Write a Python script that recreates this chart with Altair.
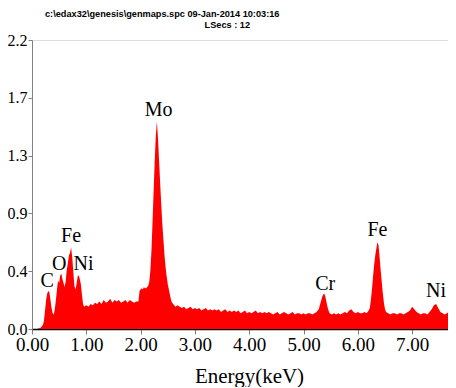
import altair as alt
import pandas as pd

# ---- spectrum ----
energy_kev = [
    0.00, 0.08, 0.12, 0.16, 0.20, 0.22, 0.24, 0.26, 0.28, 0.30, 0.32, 0.34, 0.36, 0.38, 0.40,
    0.42, 0.44, 0.46, 0.48, 0.50, 0.52, 0.54, 0.56, 0.58, 0.60, 0.62, 0.64, 0.66, 0.68, 0.70,
    0.72, 0.74, 0.76, 0.78, 0.80, 0.82, 0.84, 0.86, 0.88, 0.90, 0.92, 0.94, 0.96,
    1.00, 1.04, 1.08, 1.12, 1.16, 1.20, 1.24, 1.28, 1.32, 1.36, 1.40, 1.44, 1.48, 1.52, 1.56,
    1.60, 1.64, 1.68, 1.72, 1.76, 1.80, 1.84, 1.88, 1.92, 1.96, 1.98,
    2.00, 2.02, 2.04, 2.06, 2.08, 2.10, 2.12, 2.14, 2.16, 2.18, 2.20, 2.22, 2.24, 2.26, 2.28,
    2.30, 2.32, 2.34, 2.36, 2.38, 2.40, 2.42, 2.44, 2.46, 2.48, 2.50, 2.52, 2.54, 2.56, 2.58,
    2.60, 2.64, 2.68,
    2.72, 2.76, 2.80, 2.84, 2.88, 2.92, 2.96, 3.00, 3.04, 3.08, 3.12, 3.16, 3.20, 3.24, 3.28,
    3.32, 3.36, 3.40, 3.44, 3.48, 3.52, 3.56, 3.60, 3.64, 3.68, 3.72, 3.76, 3.80, 3.84, 3.88,
    3.92, 3.96, 4.00, 4.04, 4.08, 4.12, 4.16, 4.20, 4.24, 4.28, 4.32, 4.36, 4.40, 4.44, 4.48,
    4.52, 4.56, 4.60, 4.64, 4.68, 4.72, 4.76, 4.80, 4.84, 4.88, 4.92, 4.96, 5.00, 5.04, 5.08,
    5.12, 5.16, 5.20,
    5.24, 5.28, 5.30, 5.32, 5.34, 5.36, 5.38, 5.40, 5.42, 5.44, 5.46, 5.48,
    5.52, 5.56, 5.60, 5.64, 5.68, 5.72, 5.76, 5.80, 5.84, 5.88, 5.92, 5.96, 6.00, 6.04, 6.08,
    6.12, 6.16,
    6.20, 6.22, 6.24, 6.26, 6.28, 6.30, 6.32, 6.34, 6.36, 6.38, 6.40, 6.42, 6.44, 6.46, 6.48,
    6.50, 6.52,
    6.56, 6.60, 6.64, 6.68, 6.72, 6.76, 6.80, 6.84, 6.88, 6.92, 6.96, 7.00, 7.04, 7.08, 7.12,
    7.16, 7.20, 7.24, 7.28, 7.32, 7.36, 7.40, 7.44, 7.48, 7.52, 7.56, 7.60, 7.64, 7.68, 7.72,
    7.76, 7.80, 7.84, 7.88,
]
counts_k = [
    0.0, 0.0, 0.003, 0.01, 0.03, 0.06, 0.14, 0.22, 0.27, 0.29, 0.28, 0.22, 0.16, 0.12, 0.11,
    0.15, 0.22, 0.30, 0.37, 0.35, 0.41, 0.42, 0.38, 0.35, 0.32, 0.36, 0.45, 0.50, 0.56, 0.58,
    0.62, 0.55, 0.44, 0.33, 0.30, 0.34, 0.40, 0.41, 0.38, 0.34, 0.26, 0.19, 0.17,
    0.18, 0.17, 0.19, 0.18, 0.20, 0.19, 0.21, 0.19, 0.22, 0.20, 0.21, 0.23, 0.20, 0.22, 0.21,
    0.22, 0.20, 0.21, 0.22, 0.20, 0.22, 0.21, 0.20, 0.21, 0.21, 0.29,
    0.30, 0.31, 0.30, 0.32, 0.31, 0.31, 0.32, 0.33, 0.36, 0.45, 0.60, 0.82, 1.05, 1.28, 1.47,
    1.58, 1.45, 1.28, 1.11, 0.95, 0.80, 0.68, 0.56, 0.47, 0.40, 0.34, 0.30, 0.26, 0.22, 0.20,
    0.19, 0.17, 0.18,
    0.17, 0.16, 0.17, 0.15, 0.16, 0.17, 0.15, 0.16, 0.15, 0.16, 0.14, 0.15, 0.16, 0.14, 0.15,
    0.14, 0.15, 0.14, 0.15, 0.13, 0.14, 0.15, 0.13, 0.14, 0.13, 0.14, 0.13, 0.14, 0.12, 0.13,
    0.14, 0.12, 0.13, 0.12, 0.13, 0.14, 0.12, 0.13, 0.12, 0.13, 0.12, 0.13, 0.12, 0.11, 0.12,
    0.13, 0.11, 0.12, 0.13, 0.12, 0.11, 0.12, 0.13, 0.11, 0.12, 0.12, 0.11, 0.12, 0.11, 0.12,
    0.12, 0.11, 0.12,
    0.13, 0.15, 0.18, 0.21, 0.24, 0.26, 0.27, 0.25, 0.21, 0.17, 0.14, 0.12,
    0.11, 0.12, 0.11, 0.12, 0.11, 0.12, 0.13, 0.12, 0.14, 0.15, 0.13, 0.12, 0.13, 0.12, 0.12,
    0.13, 0.12,
    0.14, 0.16, 0.22, 0.30, 0.40, 0.49, 0.56, 0.61, 0.66, 0.64, 0.55, 0.45, 0.36, 0.27, 0.20,
    0.15, 0.13,
    0.12, 0.11, 0.12, 0.12, 0.11, 0.12, 0.12, 0.11, 0.12, 0.13, 0.14, 0.17, 0.15, 0.13, 0.12,
    0.11, 0.12, 0.12, 0.11, 0.13, 0.15, 0.18, 0.19, 0.16, 0.13, 0.12, 0.11, 0.12, 0.13, 0.12,
    0.11, 0.12, 0.12, 0.12,
]

# ---- element labels ----
label_text = ["C", "O", "Fe", "Ni", "Mo", "Cr", "Fe", "Ni"]
label_energy = [0.28, 0.50, 0.72, 0.95, 2.33, 5.40, 6.36, 7.44]
label_height = [0.32, 0.45, 0.66, 0.45, 1.62, 0.30, 0.71, 0.24]

# ---- axes ----
x_ticks = [0, 1, 2, 3, 4, 5, 6, 7]
y_ticks = [0, 0.44, 0.88, 1.32, 1.76, 2.2]
y_tick_labels = ["0.0", "0.4", "0.9", "1.3", "1.7", "2.2"]

header_line1 = "c:\\edax32\\genesis\\genmaps.spc  09-Jan-2014 10:03:16"
header_line2 = "LSecs : 12"

spec = pd.DataFrame({"energy": energy_kev, "counts": counts_k})
labels = pd.DataFrame({"energy": label_energy, "counts": label_height, "label": label_text})

serif = "Liberation Serif"
y_expr = "[" + ",".join("'%s'" % s for s in y_tick_labels) + "][indexof([" + \
    ",".join(str(v) for v in y_ticks) + "], datum.value)]"

x_scale = alt.Scale(domain=[0, 7.66], nice=False, zero=False)
y_scale = alt.Scale(domain=[0, 2.2], nice=False)

area = alt.Chart(spec).mark_area(color="#ff0000", clip=True, interpolate="linear").encode(
    x=alt.X("energy:Q", scale=x_scale, axis=alt.Axis(
        values=x_ticks, format=".2f", tickSize=5, labelPadding=1, labelFlush=False,
        labelOverlap=False, domainColor="#000000", domainWidth=1.5, tickColor="#808080",
        labelFont=serif, labelFontSize=19, labelColor="#000000",
        title="Energy(keV)", titleFont=serif, titleFontSize=21, titleFontWeight="normal",
        titleColor="#000000", titleX=217, titleY=53, titleBaseline="alphabetic",
        titleAlign="center", grid=False)),
    y=alt.Y("counts:Q", scale=y_scale, axis=alt.Axis(
        values=y_ticks, labelExpr=y_expr, tickSize=4, labelPadding=1,
        domainColor="#808080", tickColor="#808080", labelFont=serif, labelFontSize=16,
        labelColor="#000000", title=None, grid=False)),
)

text = alt.Chart(labels).mark_text(
    font=serif, fontSize=20, baseline="alphabetic", align="center", color="#000000"
).encode(
    x=alt.X("energy:Q", scale=x_scale),
    y=alt.Y("counts:Q", scale=y_scale),
    text="label:N",
)

h1 = alt.Chart(pd.DataFrame({"t": [header_line1]})).mark_text(
    font="Liberation Sans", fontWeight="bold", fontSize=9.2, align="left",
    baseline="alphabetic", color="#000000"
).encode(text="t:N", x=alt.value(13), y=alt.value(-23))

h2 = alt.Chart(pd.DataFrame({"t": [header_line2]})).mark_text(
    font="Liberation Sans", fontWeight="bold", fontSize=9.2, align="right",
    baseline="alphabetic", color="#000000"
).encode(text="t:N", x=alt.value(218), y=alt.value(-12))

chart = alt.layer(area, text, h1, h2).properties(
    width=416, height=289,
    autosize=alt.AutoSizeParams(type="none"),
    padding={"left": 24, "top": 32, "right": 0, "bottom": 58},
).configure_view(stroke=None).configure(background="#ffffff")

chart.save("out.html", embed_options={"renderer": "svg", "actions": False})
